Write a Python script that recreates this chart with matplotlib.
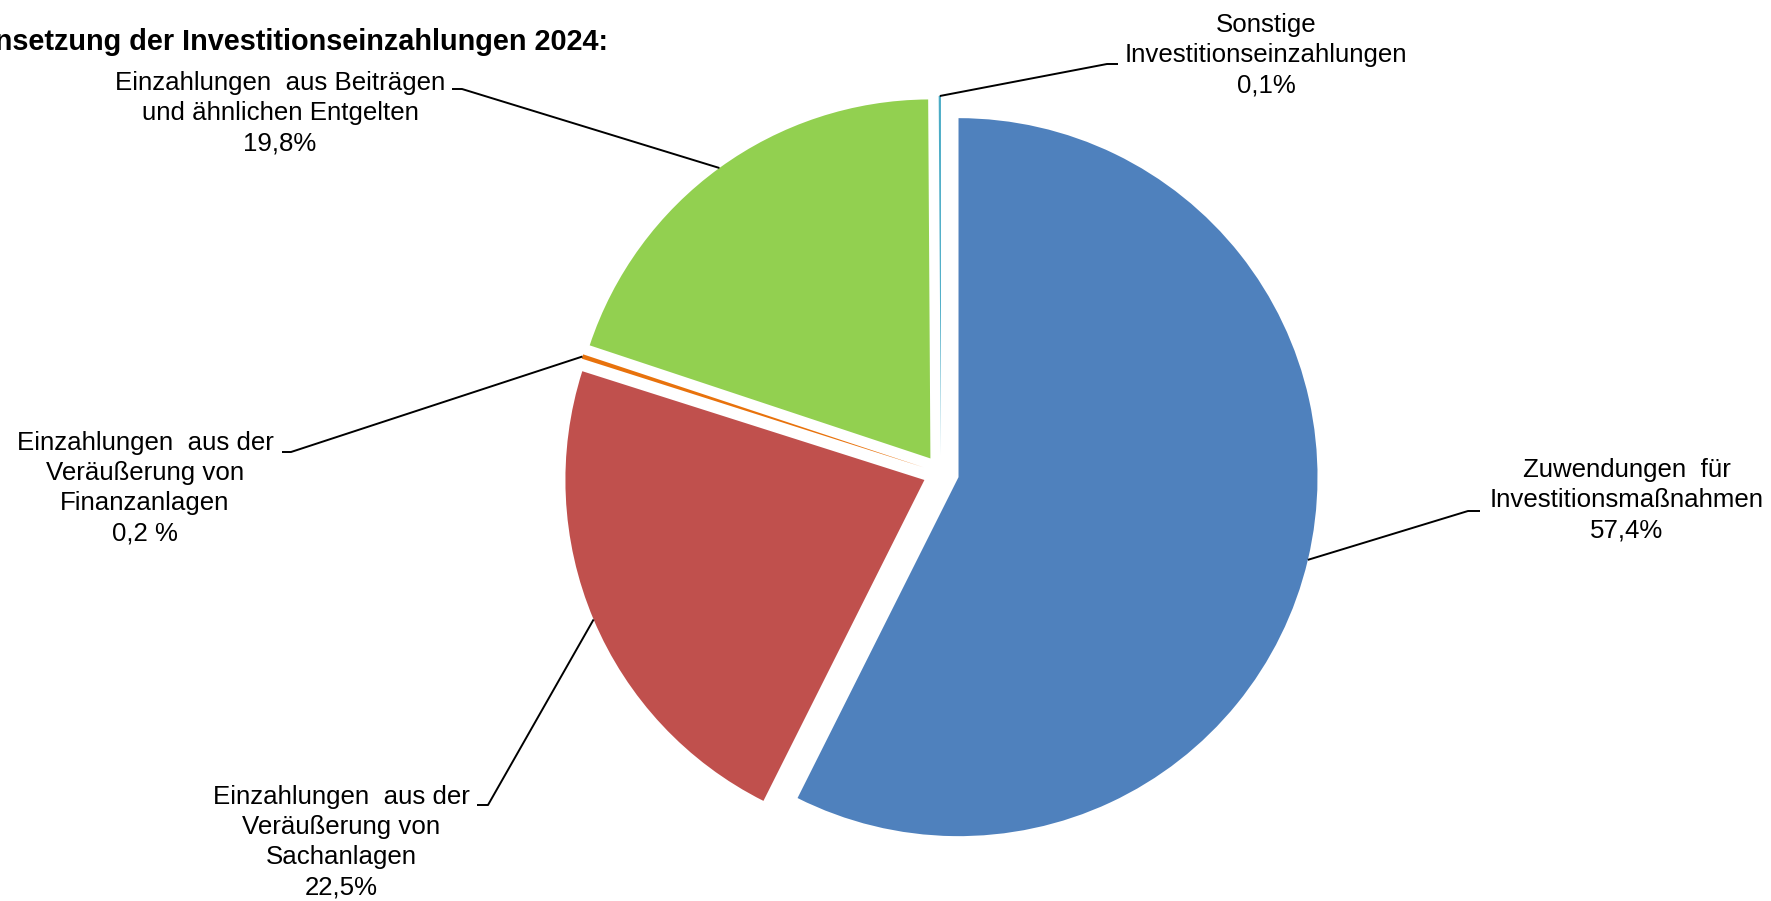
import numpy as np
import matplotlib
matplotlib.use("Agg")
import matplotlib.pyplot as plt

plt.rcParams["font.family"] = ["Liberation Sans", "DejaVu Sans"]

# data (clockwise from 12 o'clock)
categories = [
    "Zuwendungen  für\nInvestitionsmaßnahmen",
    "Einzahlungen  aus der\nVeräußerung von\nSachanlagen",
    "Einzahlungen  aus der\nVeräußerung von\nFinanzanlagen",
    "Einzahlungen  aus Beiträgen\nund ähnlichen Entgelten",
    "Sonstige\nInvestitionseinzahlungen",
]
shares = [57.4, 22.5, 0.2, 19.8, 0.1]
share_labels = ["57,4%", "22,5%", "0,2 %", "19,8%", "0,1%"]
colors = ["#4F81BD", "#C0504D", "#E8720C", "#92D050", "#4BACC6"]
title = "Zusammensetzung der Investitionseinzahlungen 2024:"

W, H = 1771, 901
fig = plt.figure(figsize=(W / 100, H / 100), dpi=100)
ax = fig.add_axes([0, 0, 1, 1])

# pie geometry in pixel units (image y measured from top)
cx, cy, radius = 941, 473, 359
explode = [18] * len(shares)

wedges, _ = ax.pie(
    shares,
    colors=colors,
    startangle=90,
    counterclock=False,
    radius=radius,
    center=(cx, H - cy),
    explode=explode,
    wedgeprops=dict(linewidth=0),
)
ax.set_xlim(0, W)
ax.set_ylim(0, H)
ax.set_aspect("equal")
ax.axis("off")

# label block centres and leader elbows (image coords)
label_pos = [(1627, 500), (341, 842), (145, 488), (280, 113), (1266, 55)]
elbows = [
    [(1468, 511), (1480, 511)],
    [(488, 805), (477, 805)],
    [(291, 452), (282, 452)],
    [(462, 89), (452, 89)],
    [(1107, 64), (1118, 64)],
]

for w, cat, lab, (tx, ty), elb in zip(wedges, categories, share_labels, label_pos, elbows):
    mid = np.deg2rad((w.theta1 + w.theta2) / 2)
    wx, wy = w.center
    px = wx + w.r * np.cos(mid)
    py = wy + w.r * np.sin(mid)
    xs = [px] + [e[0] for e in elb]
    ys = [py] + [H - e[1] for e in elb]
    ax.plot(xs, ys, color="black", lw=1.4, solid_capstyle="butt")
    ax.text(tx, H - ty, cat + "\n" + lab, ha="center", va="center",
            multialignment="center", fontsize=18.6, linespacing=1.32)

fig.text(608 / W, 1 - 42 / H, title, ha="right", va="center",
         fontsize=20.8, fontweight="bold")

fig.savefig("out.png", dpi=100)
